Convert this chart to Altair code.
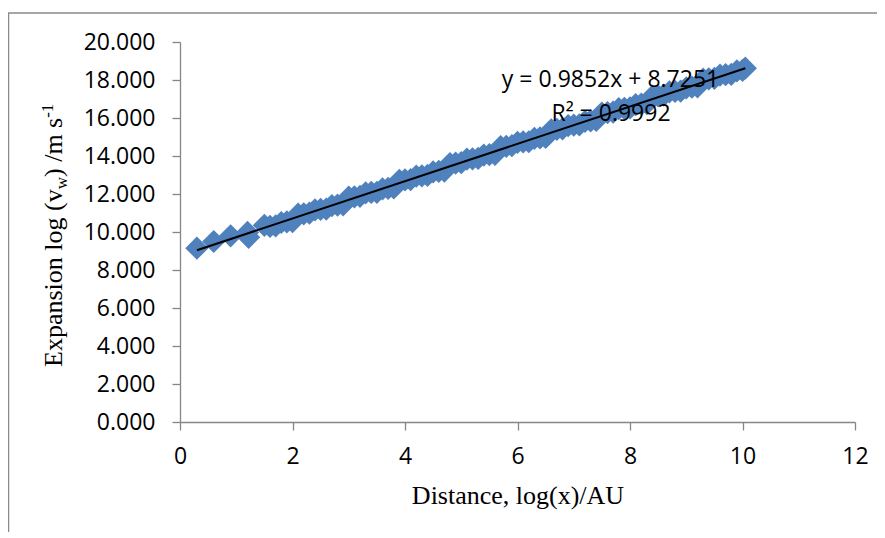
import altair as alt
import pandas as pd

# ---- data ----
x_log_dist = [0.30, 0.60, 0.90, 1.20, 1.22,
              1.5, 1.6, 1.7, 1.8, 1.9, 2.0, 2.1, 2.2, 2.3, 2.4, 2.5, 2.6, 2.7, 2.8, 2.9,
              3.0, 3.1, 3.2, 3.3, 3.4, 3.5, 3.6, 3.7, 3.8, 3.9, 4.0, 4.1, 4.2, 4.3, 4.4,
              4.5, 4.6, 4.7, 4.8, 4.9, 5.0, 5.1, 5.2, 5.3, 5.4, 5.5, 5.6, 5.7, 5.8, 5.9,
              6.0, 6.1, 6.2, 6.3, 6.4, 6.5, 6.6, 6.7, 6.8, 6.9, 7.0, 7.1, 7.2, 7.3, 7.4,
              7.5, 7.6, 7.7, 7.8, 7.9, 8.0, 8.1, 8.2, 8.3, 8.4, 8.5, 8.6, 8.7, 8.8, 8.9,
              9.0, 9.1, 9.2, 9.3, 9.4, 9.5, 9.6, 9.7, 9.8, 9.9, 10.0, 10.05]
y_log_vw = [9.15, 9.50, 9.80, 9.98, 9.72,
            10.35, 10.30, 10.32, 10.50, 10.53, 10.55, 10.94, 10.96, 10.99, 11.17, 11.19, 11.21, 11.39, 11.41, 11.43,
            11.83, 11.85, 11.88, 12.06, 12.08, 12.09, 12.27, 12.30, 12.32, 12.72, 12.74, 12.76, 12.94, 12.96, 12.98,
            13.16, 13.19, 13.21, 13.60, 13.62, 13.65, 13.83, 13.85, 13.87, 14.05, 14.07, 14.09, 14.49, 14.51, 14.54,
            14.72, 14.74, 14.75, 14.93, 14.96, 14.98, 15.38, 15.40, 15.43, 15.60, 15.62, 15.64, 15.82, 15.85, 15.87,
            16.26, 16.28, 16.31, 16.49, 16.51, 16.53, 16.71, 16.73, 16.75, 17.15, 17.17, 17.20, 17.38, 17.40, 17.41,
            17.59, 17.62, 17.64, 18.04, 18.06, 18.09, 18.26, 18.28, 18.30, 18.48, 18.51, 18.62]
x_ticks = [0, 2, 4, 6, 8, 10, 12]
y_ticks = [0, 2, 4, 6, 8, 10, 12, 14, 16, 18, 20]
x_title = "Distance, log(x)/AU"
y_title_parts = ["Expansion log (v", "w", ") /m s", "-1"]
equation_text = "y = 0.9852x + 8.7251"
r2_text = "R² = 0.9992"

df = pd.DataFrame({"x": x_log_dist, "y": y_log_vw})

W, H = 675, 380
GRAY = "#868686"
xs = alt.Scale(domain=[0, 12], nice=False, zero=False)
ys = alt.Scale(domain=[0, 20], nice=False, zero=False)

x_enc = alt.X("x:Q", scale=xs,
              axis=alt.Axis(values=x_ticks, title=x_title, labelPadding=15,
                            labelFlush=False,
                            titleFont="Liberation Serif", titleFontSize=26,
                            titleFontWeight="normal", titleColor="black",
                            titlePadding=14))
y_enc = alt.Y("y:Q", scale=ys,
              axis=alt.Axis(values=y_ticks, format=".3f", title=None,
                            labelPadding=17, labelFlush=False))

points = alt.Chart(df).mark_point(shape="diamond", filled=True, size=540,
                                  color="#4F81BD", opacity=1).encode(x=x_enc, y=y_enc)

trend = alt.Chart(df).transform_regression("x", "y").mark_line(
    color="black", strokeWidth=2).encode(x=x_enc, y=y_enc)


def label(s, x, y, **kw):
    return alt.Chart(pd.DataFrame({"t": [s]})).mark_text(**kw).encode(
        text="t:N", x=alt.value(x), y=alt.value(y))


eq = label(equation_text, 430.5, 45, font="Open Sans", fontSize=23,
           align="center", baseline="alphabetic", color="black")
r2 = label(r2_text, 431, 78.5, font="Open Sans", fontSize=23,
           align="center", baseline="alphabetic", color="black")

serif = dict(font="Liberation Serif", angle=270, align="left",
             baseline="alphabetic", color="black")
yt1 = label(y_title_parts[0], -118, 325, fontSize=26, **serif)
yt2 = label(y_title_parts[1], -113, 147.3, fontSize=17, **serif)
yt3 = label(y_title_parts[2], -118, 135.0, fontSize=26, **serif)
yt4 = label(y_title_parts[3], -127, 75.8, fontSize=17, **serif)

frame = alt.Chart(pd.DataFrame({"t": [0]})).mark_rect(
    fillOpacity=0, stroke="#8a8a8a", strokeWidth=1.5).encode(
    x=alt.value(-171.5), y=alt.value(-29), x2=alt.value(760), y2=alt.value(560))

chart = alt.layer(frame, points, eq, r2, trend, yt1, yt2, yt3, yt4).properties(
    width=W, height=H,
    autosize=alt.AutoSizeParams(type="none"),
    padding={"left": 172, "top": 34, "right": 22, "bottom": 110},
    background="white",
).configure_axis(
    grid=False, labelFont="Open Sans", labelFontSize=23, labelColor="black",
    domainColor=GRAY, tickColor=GRAY, domainWidth=1.3, tickWidth=1.3, tickSize=8,
).configure_view(strokeWidth=0)

chart.save("out.html", embed_options={"renderer": "svg", "actions": False})
